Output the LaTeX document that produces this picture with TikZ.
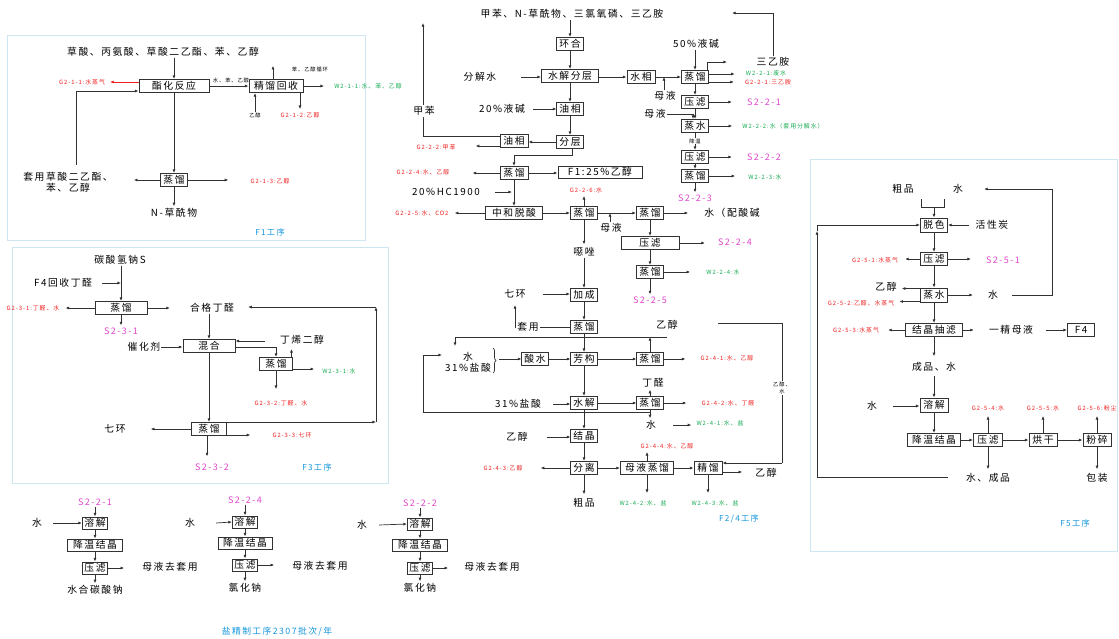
\documentclass[tikz,border=0pt]{standalone}
\usepackage{fontspec}
\setmainfont[LetterSpace=16]{Noto Sans CJK SC}
\usetikzlibrary{arrows.meta,decorations.pathreplacing}
\definecolor{rd}{RGB}{240,30,30}
\definecolor{gn}{RGB}{20,170,80}
\definecolor{mg}{RGB}{225,70,205}
\definecolor{bl}{RGB}{20,150,220}
\definecolor{fr}{RGB}{205,230,242}
\definecolor{lc}{RGB}{50,50,50}
\newcommand\fmain{\fontsize{9.8}{11}\selectfont}
\newcommand\fmag{\fontsize{9}{10}\selectfont}
\newcommand\fsml{\fontsize{5.9}{7}\selectfont}
\newcommand\ftiny{\fontsize{5.3}{6.5}\selectfont}
\newcommand\fblu{\fontsize{8.2}{9.5}\selectfont}
\tikzset{
  box/.style={draw=lc,line width=1pt,fill=white,minimum height=13pt,inner xsep=2.5pt,inner ysep=1pt,font=\fmain},
  sbox/.style={box,minimum height=12pt,inner xsep=2pt},
  tx/.style={font=\fmain,inner sep=1pt,align=center},
  tn/.style={font=\ftiny,inner sep=0.5pt,align=center},
  rl/.style={font=\fsml,text=rd,inner sep=1pt},
  gl/.style={font=\fsml,text=gn,inner sep=1pt},
  ml/.style={font=\fmag,text=mg,inner sep=1pt},
  bll/.style={font=\fblu,text=bl,inner sep=1pt},
  pl/.style={draw=lc,line width=0.7pt},
  ar/.style={pl,-{Latex[length=3.6pt,width=3pt]}},
  frm/.style={draw=fr,line width=0.9pt},
  ovl/.style={fill=white,inner sep=1pt},
}
\begin{document}
\begin{tikzpicture}[x=1pt,y=-1pt]
\useasboundingbox (0,0) rectangle (1119,638);
\fill[white] (0,0) rectangle (1119,638);

% ================= F1 =================
\draw[frm] (7,35) rectangle (365,240);
\node[tx] (f1in) at (163,52) {草酸、丙氨酸、草酸二乙酯、苯、乙醇};
\node[box,minimum width=70pt] (zh) at (174,86) {酯化反应};
\node[rl] (g211) at (82,82) {G2-1-1:水蒸气};
\node[box,minimum width=54pt] (jl) at (276,86) {精馏回收};
\node[tn] (rec) at (310,69) {苯、乙醇循环};
\node[gl] (w211) at (368,86) {W2-1-1:水、苯、乙醇};
\node[tn] (etin) at (255,115) {乙醇};
\node[rl] (g212) at (300,115) {G2-1-2:乙醇};
\node[tn] (mid) at (231,80) {水、苯、乙醇};
\node[tx] (ty) at (68,182) {套用草酸二乙酯、\\苯、乙醇};
\node[box,minimum width=20pt] (zl1) at (174,180) {蒸馏};
\node[rl] (g213) at (270,181) {G2-1-3:乙醇};
\node[tx] (nc) at (174,213) {N-草酰物};
\node[bll] (f1) at (270,232) {F1工序};

\draw[ar] (zh.north |- f1in.south) -- (zh.north);
\draw[ar,draw=rd] ([yshift=4pt]zh.west) -- ([xshift=4pt]g211.east);
\draw[ar] (zh.east) -- (jl.west);
\draw[ar] ([xshift=-3pt]jl.north) -- ([xshift=-3pt]jl.north |- rec.north);
\draw[ar,shorten >=9pt] (jl.east) -- (jl.east -| w211.west);
\draw[ar] (etin.north) -- (etin.north |- jl.south);
\draw[ar,shorten >=2pt] (g212.north |- jl.south) -- (g212.north);
\draw[ar] ([xshift=8pt,yshift=6pt]ty.north) |- ([yshift=2pt]zh.south west);
\draw[ar] (zh.south -| zl1.north) -- (zl1.north);
\draw[ar] (zl1.west) -- ([xshift=20pt]ty.east |- zl1.west);
\draw[ar,shorten >=21pt] (zl1.east) -- (zl1.east -| g213.west);
\draw[ar,shorten >=1pt] (zl1.south) -- (zl1.south |- nc.north);

% ================= F3 =================
\draw[frm] (12,247) rectangle (388,483);
\node[tx] (na) at (120,260) {碳酸氢钠S};
\node[tx] (f4in) at (63,283) {F4回收丁醛};
\node[box,minimum width=52pt] (zl31) at (121,308) {蒸馏};
\node[rl] (g231) at (33,308) {G2-3-1:丁醛、水};
\node[tx] (hgd) at (212,308) {合格丁醛};
\node[ml] (s231) at (121,331) {S2-3-1};
\node[box,minimum width=52pt] (hh) at (209,346) {混合};
\node[tx] (chj) at (144,347) {催化剂};
\node[tx] (dxe) at (302,340) {丁烯二醇};
\node[box,minimum width=33pt] (zl32) at (276,364) {蒸馏};
\node[gl] (w231) at (339,371) {W2-3-1:水};
\node[rl] (g232) at (281,403) {G2-3-2:丁醛、水};
\node[box,minimum width=35pt] (zl33) at (209,429) {蒸馏};
\node[tx] (qh1) at (115,429) {七环};
\node[rl] (g233) at (292,435) {G2-3-3:七环};
\node[ml] (s232) at (212,467) {S2-3-2};
\node[bll] (f3) at (317,467) {F3工序};
\coordinate (c31) at (265,341);
\coordinate (r3a) at (376,422);
\coordinate (r3b) at (376,307);

\draw[ar] (na.south -| zl31.north) -- (zl31.north);
\draw[ar] ([xshift=9pt]f4in.east) -- (f4in.east -| zl31.north);
\draw[ar,shorten >=5pt] (zl31.west) -- (zl31.west -| g231.east);
\draw[ar,shorten >=19pt] (zl31.east) -- (zl31.east -| hgd.west);
\draw[ar,shorten >=1pt] (zl31.south) -- (zl31.south |- s231.north);
\draw[ar] (hgd.south -| hh.north) -- (hh.north);
\draw[ar] (chj.east) -- (chj.east -| hh.west);
\draw[ar] (c31) -- (c31 -| hh.east);
\draw[ar] ([yshift=-1pt]hh.east) -| (zl32.north);
\draw[ar] ([xshift=-1.5pt]zl32.north east) -- ([xshift=-1.5pt,yshift=8pt]zl32.north east);
\draw[ar,shorten >=7pt] ([yshift=2pt]zl32.south east) -- ([yshift=2pt]zl32.south east -| w231.west);
\draw[ar,shorten >=10pt] (zl32.south) -- (zl32.south |- g232.north);
\draw[ar] (hh.south) -- (zl33.north);
\draw[ar,shorten >=24pt] (zl33.west) -- (zl33.west -| qh1.east);
\draw[ar] (zl33.north east) -- (zl33.north east -| r3a);
\draw[ar] (r3a) -- (r3b);
\draw[ar,shorten >=13pt] (r3b) -- (r3b -| hgd.east);
\draw[ar,shorten >=21pt] ([yshift=1pt]zl33.south east) -- ([yshift=1pt]zl33.south east -| g233.west);
\draw[ar,shorten >=6pt] ([xshift=-2pt]zl33.south) -- ([xshift=-2pt]zl33.south |- s232.north);

% ================= salt refining flows =================
\node[ml] (fa_s) at (95,502) {S2-2-1};
\node[tx] (fa_w) at (37,523) {水};
\node[sbox] (fa_r) at (95,523) {溶解};
\node[sbox,minimum width=55pt] (fa_j) at (95,545) {降温结晶};
\node[sbox] (fa_y) at (95,568) {压滤};
\node[tx] (fa_m) at (170,567) {母液去套用};
\node[tx] (fa_p) at (95,590) {水合碳酸钠};
\draw[ar] (fa_s) -- (fa_r);
\draw[ar] ([xshift=10pt]fa_w.east) -- (fa_r.west);
\draw[ar] (fa_r) -- (fa_j);
\draw[ar] (fa_j) -- (fa_y);
\draw[ar,shorten >=17pt] (fa_y.east) -- (fa_y.east -| fa_m.west);
\draw[ar,shorten >=1pt] (fa_y.south) -- (fa_p.north);

\node[ml] (fb_s) at (245,500) {S2-2-4};
\node[tx] (fb_w) at (190,523) {水};
\node[sbox] (fb_r) at (245,522) {溶解};
\node[sbox,minimum width=54pt] (fb_j) at (245,543) {降温结晶};
\node[sbox] (fb_y) at (245,565) {压滤};
\node[tx] (fb_m) at (320,566) {母液去套用};
\node[tx] (fb_p) at (245,588) {氯化钠};
\draw[ar] (fb_s) -- (fb_r);
\draw[ar] ([xshift=20pt]fb_w.east) -- (fb_r.west);
\draw[ar] (fb_r) -- (fb_j);
\draw[ar] (fb_j) -- (fb_y);
\draw[ar,shorten >=17pt] (fb_y.east) -- (fb_y.east -| fb_m.west);
\draw[ar,shorten >=1pt] (fb_y.south) -- (fb_p.north);

\node[ml] (fc_s) at (420,503) {S2-2-2};
\node[tx] (fc_w) at (362,525) {水};
\node[sbox] (fc_r) at (420,524) {溶解};
\node[sbox,minimum width=55pt] (fc_j) at (420,545) {降温结晶};
\node[sbox] (fc_y) at (420,568) {压滤};
\node[tx] (fc_m) at (492,567) {母液去套用};
\node[tx] (fc_p) at (420,588) {氯化钠};
\draw[ar] (fc_s) -- (fc_r);
\draw[ar] ([xshift=11pt]fc_w.east) -- (fc_r.west);
\draw[ar] (fc_r) -- (fc_j);
\draw[ar] (fc_j) -- (fc_y);
\draw[ar,shorten >=15pt] (fc_y.east) -- (fc_y.east -| fc_m.west);
\draw[ar,shorten >=1pt] (fc_y.south) -- (fc_p.north);

\node[bll,font=\fontsize{8.8}{10}\selectfont] (cap) at (277,632) {盐精制工序2307批次/年};

% ================= F2/4 =================
\node[tx] (top2) at (572,14) {甲苯、N-草酰物、三氯氧磷、三乙胺};
\node[box,minimum width=26pt] (hh2) at (570,44) {环合};
\node[box,minimum width=57pt] (sjfc) at (570,76) {水解分层};
\node[tx] (fjs) at (480,77) {分解水};
\node[box,minimum width=28pt] (sx) at (641,77) {水相};
\node[tx] (mya) at (665,96) {母液};
\node[tx] (yj50) at (696,44) {50\%液碱};
\node[box,minimum width=27pt] (zd1) at (695,77) {蒸馏};
\node[tx] (sya) at (773,62) {三乙胺};
\node[gl] (w221) at (766,73) {W2-2-1:废水};
\node[rl] (g221) at (768,82) {G2-2-1:三乙胺};
\node[box,minimum width=26pt] (yl1b) at (695,102) {压滤};
\node[ml] (s221) at (764,102) {S2-2-1};
\node[tx] (myb) at (655,114) {母液};
\node[box,minimum width=26pt] (zs) at (695,126) {蒸水};
\node[gl] (w222) at (783,126) {W2-2-2:水（套用分解水）};
\node[box,minimum width=26pt] (yl2b) at (695,157) {压滤};
\node[ml] (s222) at (764,157) {S2-2-2};
\node[box,minimum width=26pt] (zd2) at (695,176) {蒸馏};
\node[gl] (w223) at (765,177) {W2-2-3:水};
\node[ml] (s223) at (695,198) {S2-2-3};
\coordinate (tr1) at (727,62);
\coordinate (sy1) at (773,13);
\coordinate (sy0) at (732,13);

\node[tx] (yj20) at (502,109) {20\%液碱};
\node[box,minimum width=26pt] (yx1) at (570,109) {油相};
\node[box,minimum width=26pt] (fc) at (570,142) {分层};
\node[box,minimum width=28pt] (yx2) at (514,141) {油相};
\node[rl] (g222) at (436,147) {G2-2-2:甲苯};
\node[box,minimum width=28pt] (zd3) at (514,173) {蒸馏};
\node[box,minimum width=84pt,minimum height=12pt] (f1e) at (600,172) {F1:25\%乙醇};
\node[rl] (g224) at (423,172) {G2-2-4:水、乙醇};
\node[tx] (hcl) at (446,192) {20\%HC1900};
\node[box,minimum width=57pt] (zhts) at (514,213) {中和脱酸};
\node[rl] (g225) at (422,213) {G2-2-5:水、CO2};
\node[box,minimum width=27pt] (zd4) at (584,213) {蒸馏};
\node[rl] (g226) at (586,190) {G2-2-6:水};
\node[box,minimum width=27pt] (zd5) at (650,213) {蒸馏};
\node[tx] (myc) at (611,228) {母液};
\node[tx] (spsj) at (732,213) {水（配酸碱};
\node[box,minimum width=58pt] (yl3b) at (650,243) {压滤};
\node[ml] (s224) at (735,242) {S2-2-4};
\node[box,minimum width=27pt] (zd6) at (650,272) {蒸馏};
\node[gl] (w224) at (723,272) {W2-2-4:水};
\node[ml] (s225) at (650,300) {S2-2-5};
\coordinate (jbt) at (423,23);
\coordinate (k1) at (572,155);

\node[tx] (ez) at (584,252) {噁唑};
\node[box,minimum width=27pt] (jcb) at (584,295) {加成};
\node[tx] (qh2) at (515,294) {七环};
\node[box,minimum width=27pt] (zd7) at (584,327) {蒸馏};
\node[tx] (yc1) at (667,325) {乙醇};
\coordinate (ty2up) at (515,305);
\coordinate (h1) at (455,337);
\coordinate (h1d) at (455,346);
\coordinate (h2) at (667,337);

\node[tx] (sh) at (468,362) {水\\31\%盐酸};
\coordinate (brt) at (499,359);
\node[box,minimum width=26pt] (ss) at (535,359) {酸水};
\node[box,minimum width=26pt] (fg) at (584,359) {芳构};
\node[box,minimum width=26pt] (zd8) at (650,359) {蒸馏};
\node[rl] (g241) at (727,358) {G2-4-1:水、乙醇};
\node[box,minimum width=26pt] (sj) at (584,403) {水解};
\node[tx] (hcl31) at (518,404) {31\%盐酸};
\node[box,minimum width=26pt] (zd9) at (650,403) {蒸馏};
\node[tx] (dq) at (653,383) {丁醛};
\node[rl] (g242) at (728,403) {G2-4-2:水、丁醛};
\node[tx] (sw) at (651,425) {水};
\node[gl] (w241) at (720,423) {W2-4-1:水、盐};
\node[box,minimum width=26pt] (jj) at (584,436) {结晶};
\node[tx] (yc2) at (517,437) {乙醇};
\node[box,minimum width=26pt] (fl) at (584,468) {分离};
\node[rl] (g243) at (503,468) {G2-4-3:乙醇};
\node[tx] (cp) at (584,503) {粗品};
\node[box,minimum width=53pt] (myzl) at (647,468) {母液蒸馏};
\node[rl] (g244) at (667,446) {G2-4-4:水、乙醇};
\node[gl] (w242) at (643,503) {W2-4-2:水、盐};
\node[box,minimum width=28pt] (jl2) at (708,468) {精馏};
\node[tx] (yc3) at (766,473) {乙醇};
\node[gl] (w243) at (715,503) {W2-4-3:水、盐};
\node[bll] (f24) at (739,519) {F2/4工序};
\coordinate (rl1) at (650,412);
\coordinate (rl2) at (423,412);
\coordinate (rl3) at (423,355);
\coordinate (rl4) at (442,355);
\coordinate (e1) at (718,323);
\coordinate (e2) at (782,323);
\coordinate (e3) at (782,463);

% edges upper right
\draw[ar] (top2.south -| hh2.north) -- (hh2.north);
\draw[ar] (hh2) -- (sjfc);
\draw[ar] (sjfc) -- (yx1);
\draw[ar] (yx1) -- (fc);
\draw[ar] ([xshift=24pt]fjs.east) -- (fjs.east -| sjfc.west);
\draw[ar] (sjfc.east |- sx.west) -- (sx.west);
\draw[ar] (sx.east) -- (zd1.west);
\draw[ar] ([xshift=-1pt]mya.north) -- ([xshift=-1pt]mya.north |- sx.east);
\draw[ar] (yj50.south -| zd1.north) -- (zd1.north);
\draw[ar] ([xshift=-2pt]zd1.north east) |- (tr1);
\draw[ar,shorten >=10pt] ([yshift=3pt]zd1.east) -- ([yshift=3pt]zd1.east -| w221.west);
\draw[ar,shorten >=10pt] ([yshift=-5pt]zd1.east) -- ([yshift=-5pt]zd1.east -| g221.west);
\draw[pl] (sya.north) -- (sy1);
\draw[ar] (sy1) -- (sy0);
\draw[ar] (zd1) -- (yl1b);
\draw[ar,shorten >=14pt] (yl1b.east) -- (yl1b.east -| s221.west);
\draw[ar] (myb.east) -| ([xshift=-2pt]zs.north);
\draw[ar] (yl1b) -- (zs);
\draw[ar,shorten >=9pt] (zs.east) -- (zs.east -| w222.west);
\draw[ar] (zs) -- (yl2b);
\draw[ar,shorten >=14pt] (yl2b.east) -- (yl2b.east -| s222.west);
\draw[ar] (yl2b) -- (zd2);
\draw[ar,shorten >=12pt] (zd2.east) -- (zd2.east -| w223.west);
\draw[ar,shorten >=1pt] (zd2.south) -- (s223.north);

% edges left column
\draw[ar] ([xshift=7pt]yj20.east) -- (yj20.east -| yx1.west);
\draw[ar] (fc.west) -- (fc.west -| yx2.east);
\draw[ar] ([yshift=5pt]yx2.west) -| (jbt);
\draw[ar,shorten >=19pt] ([yshift=-5pt]yx2.west) -- ([yshift=-5pt]yx2.west -| g222.east);
\draw[ar] ([xshift=2pt]fc.south) -- (k1) -| (zd3.north);
\draw[ar] (zd3.east) -- (zd3.east -| f1e.west);
\draw[ar,shorten >=22pt] (zd3.west) -- (zd3.west -| g224.east);
\draw[ar] (zd3) -- (zhts);
\draw[ar,shorten >=2pt] ([xshift=14pt]hcl.east) -- (hcl.east -| zd3.south);
\draw[ar,shorten >=5pt] (zhts.west) -- (zhts.west -| g225.east);
\draw[ar] (zhts.east) -- (zd4.west);
\draw[ar,shorten >=2pt] (zd4.north) -- (zd4.north |- g226.south);
\draw[ar] (zd4.east) -- (zd5.west);
\draw[ar] ([xshift=-1pt]myc.north) -- ([xshift=-1pt]myc.north |- zd4.east);
\draw[ar,shorten >=15pt] (zd5.east) -- (zd5.east -| spsj.west);
\draw[ar] (zd5) -- (yl3b);
\draw[ar,shorten >=12pt] (yl3b.east) -- (yl3b.east -| s224.west);
\draw[ar] (yl3b) -- (zd6);
\draw[ar,shorten >=15pt] (zd6.east) -- (zd6.east -| w224.west);
\draw[ar,shorten >=1pt] (zd6.south) -- (s225.north);
\draw[ar,shorten >=2pt] (zd4.south) -- (ez.north);
\draw[ar] (ez.south) -- (jcb.north);
\draw[ar] ([xshift=16pt]qh2.east) -- (qh2.east -| jcb.west);
\draw[ar] (jcb) -- (zd7);
\draw[ar] (zd7.west) -| (ty2up);
\draw[ar] (zd7) -- (fg);
\draw[pl] (h2) -- (h1);
\draw[ar] (h1) -- (h1d);
\draw[ar] (zd8.north) -- (zd8.north |- h1);

% lower column
\draw[pl,decorate,decoration={brace,amplitude=3pt}] (493,348) -- (493,373);
\draw[ar] (brt) -- (ss.west);
\draw[ar] (ss) -- (fg);
\draw[ar] (fg) -- (zd8);
\draw[ar,shorten >=14pt] (zd8.east) -- (zd8.east -| g241.west);
\draw[ar] (fg) -- (sj);
\draw[ar] ([xshift=11pt]hcl31.east) -- (hcl31.east -| sj.west);
\draw[ar] (sj) -- (zd9);
\draw[ar,shorten >=1pt] (zd9.north) -- (zd9.north |- dq.south);
\draw[ar,shorten >=14pt] (zd9.east) -- (zd9.east -| g242.west);
\draw[pl] (rl1) -- (rl2) -- (rl3);
\draw[ar] (rl3) -- (rl4);
\draw[ar,shorten >=1pt] (zd9.south) -- (zd9.south |- sw.north);
\draw[ar,shorten >=4pt] ([xshift=16pt]sw.east) -- (sw.east -| w241.west);
\draw[ar] (sj) -- (jj);
\draw[ar] ([xshift=18pt]yc2.east) -- (yc2.east -| jj.west);
\draw[ar] (jj) -- (fl);
\draw[ar,shorten >=17pt] (fl.west) -- (fl.west -| g243.east);
\draw[ar,shorten >=3pt] (fl.south) -- (cp.north);
\draw[ar] (fl) -- (myzl);
\draw[ar,shorten >=2pt] (myzl.north) -- (myzl.north |- g244.south);
\draw[ar,shorten >=6pt] (myzl.south) -- (myzl.south |- w242.north);
\draw[ar] (myzl) -- (jl2);
\draw[ar,shorten >=12pt] ([yshift=-4pt]jl2.east) -- ([yshift=-4pt]jl2.east -| yc3.west);
\draw[ar,shorten >=6pt] (jl2.south) -- (jl2.south |- w243.north);
\draw[pl] (e1) -- (e2) -- (e3);
\draw[ar] (e3) -- (e3 -| jl2.east);

% overlay labels on lines
\node[tx,ovl] (jbl) at (424,111) {甲苯};
\node[tx,ovl] (ty2) at (528,327) {套用};
\node[tn,ovl] (jwl) at (695,141) {降温};
\node[tn,ovl] (ycs) at (782,388) {乙醇、\\水};

% ================= F5 =================
\draw[frm] (810,159) rectangle (1117,551);
\node[tx] (cp5) at (903,189) {粗品};
\node[tx] (w5) at (958,189) {水};
\node[box,minimum width=27pt,minimum height=14pt] (ts) at (934,225) {脱色};
\node[tx] (hxt) at (992,225) {活性炭};
\node[box,minimum width=27pt] (yl5) at (934,259) {压滤};
\node[rl] (g251) at (875,260) {G2-5-1:水蒸气};
\node[ml] (s251) at (1003,260) {S2-5-1};
\node[box,minimum width=27pt,minimum height=14pt] (zs5) at (934,295) {蒸水};
\node[tx] (yc5) at (886,287) {乙醇};
\node[rl] (g252) at (861,303) {G2-5-2:乙醇、水蒸气};
\node[tx] (sw5) at (993,295) {水};
\node[box,minimum width=57pt] (jccl) at (934,330) {结晶抽滤};
\node[rl] (g253) at (856,330) {G2-5-3:水蒸气};
\node[tx] (yjmy) at (1011,330) {一精母液};
\node[box,minimum width=27pt] (f4b) at (1081,330) {F4};
\node[tx] (cps) at (934,367) {成品、水};
\node[box,minimum width=28pt,minimum height=14pt] (rj5) at (934,405) {溶解};
\node[tx] (w5b) at (872,406) {水};
\node[box,minimum width=53pt] (jw5) at (934,440) {降温结晶};
\node[box,minimum width=29pt] (yl6) at (988,440) {压滤};
\node[rl] (g254) at (988,408) {G2-5-4:水};
\node[tx] (scp) at (988,478) {水、成品};
\node[box,minimum width=28pt] (hg) at (1043,440) {烘干};
\node[rl] (g255) at (1043,408) {G2-5-5:水};
\node[box,minimum width=28pt] (fs) at (1097,440) {粉碎};
\node[rl] (g256) at (1097,408) {G2-5-6:粉尘};
\node[tx] (bz) at (1097,478) {包装};
\node[bll] (f5) at (1075,523) {F5工序};
\coordinate (b1) at (921,199);
\coordinate (b2) at (921,207);
\coordinate (b3) at (944,207);
\coordinate (b4) at (944,199);
\coordinate (bm) at (934,207);
\coordinate (lp2) at (1052,189);
\coordinate (L1) at (948,477);
\coordinate (L2) at (817,477);
\coordinate (L3a) at (817,231);
\coordinate (L3) at (817,225);

\draw[pl] (b1) -- (b2) -- (b3) -- (b4);
\draw[ar] (bm) -- (ts.north);
\draw[ar] ([xshift=-6pt]hxt.west) -- (hxt.west -| ts.east);
\draw[ar] (ts) -- (yl5);
\draw[ar,shorten >=6pt] (yl5.west) -- (yl5.west -| g251.east);
\draw[ar,shorten >=14pt] (yl5.east) -- (yl5.east -| s251.west);
\draw[ar] (yl5) -- (zs5);
\draw[ar,shorten >=4pt] ([yshift=-1pt]zs5.north west) -- ([yshift=-1pt]zs5.north west -| yc5.east);
\draw[ar,shorten >=4pt] ([yshift=1pt]zs5.south west) -- ([yshift=1pt]zs5.south west -| g252.east);
\draw[ar,shorten >=14pt] (zs5.east) -- (zs5.east -| sw5.west);
\draw[ar,shorten >=20pt] ([xshift=13pt]sw5.east) -| (lp2) -- (lp2 -| w5.east);
\draw[ar] (zs5) -- (jccl);
\draw[ar,shorten >=8pt] (jccl.west) -- (jccl.west -| g253.east);
\draw[ar,shorten >=14pt] (jccl.east) -- (jccl.east -| yjmy.west);
\draw[ar] ([xshift=12pt]yjmy.east) -- (yjmy.east -| f4b.west);
\draw[ar,shorten >=5pt] (jccl.south) -- (cps.north);
\draw[ar] ([yshift=-3pt]cps.south) -- (rj5.north);
\draw[ar] ([xshift=15pt]w5b.east) -- (w5b.east -| rj5.west);
\draw[ar] (rj5) -- (jw5);
\draw[ar] (jw5) -- (yl6);
\draw[ar] (yl6) -- (hg);
\draw[ar] (hg) -- (fs);
\draw[ar,shorten >=4pt] (yl6.north) -- (yl6.north |- g254.south);
\draw[ar,shorten >=4pt] (hg.north) -- (hg.north |- g255.south);
\draw[ar,shorten >=4pt] (fs.north) -- (fs.north |- g256.south);
\draw[ar,shorten >=3pt] (yl6.south) -- (yl6.south |- scp.north);
\draw[ar,shorten >=3pt] (fs.south) -- (fs.south |- bz.north);
\draw[pl] (L1) -- (L2);
\draw[ar] (L2) -- (L3a);
\draw[pl] (L3a) -- (L3);
\draw[ar] (L3) -- (L3 -| ts.west);
\end{tikzpicture}
\end{document}
